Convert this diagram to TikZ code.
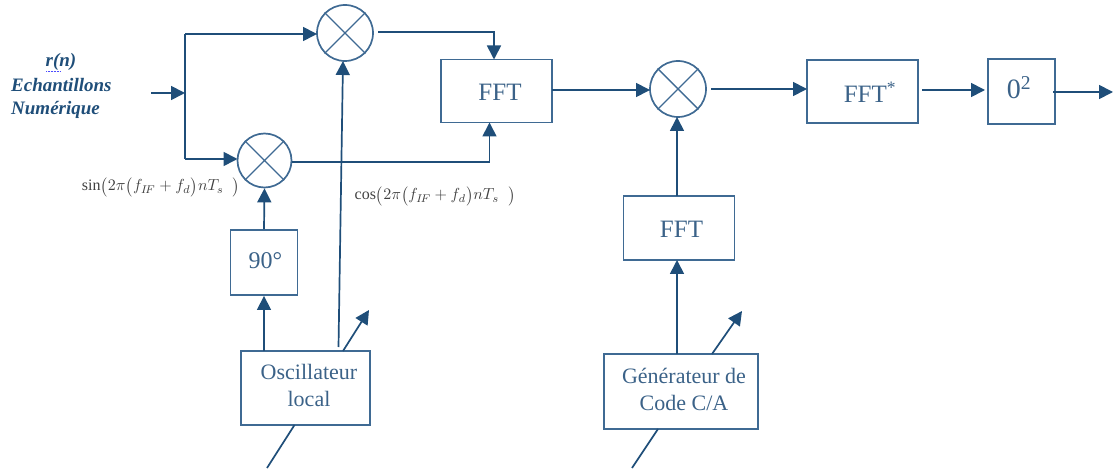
\documentclass[tikz,border=0pt]{standalone}
\usepackage{fontspec}
\setmainfont{Liberation Serif}
\usetikzlibrary{arrows.meta,positioning}
\definecolor{wire}{HTML}{1F4E79}
\definecolor{edge}{HTML}{3F6A93}
\definecolor{boxtxt}{HTML}{3B6288}
\definecolor{mathtxt}{HTML}{404040}
\tikzset{
  wireline/.style={draw=wire,line width=1.7pt},
  feed/.style={wireline,-{Triangle[length=14pt,width=14pt]}},
  plain/.style={draw=edge,line width=1.4pt},
  blockbox/.style={draw=edge,line width=1.9pt,inner sep=0pt,align=center,text=boxtxt},
  boxlabel/.style={text=boxtxt,inner sep=0pt,align=center,font=\fontsize{22}{27}\selectfont},
  bigfft/.style={font=\fontsize{25}{27}\selectfont},
  mixer/.style={circle,draw=edge,line width=1.7pt,minimum size=56pt,inner sep=0pt},
  inlabel/.style={text=wire,font=\fontsize{19}{22}\selectfont\bfseries\itshape,inner sep=0pt},
  mathlabel/.style={text=mathtxt,scale=1.6,inner sep=0pt},
}
\begin{document}
\begin{tikzpicture}[x=1pt,y=-1pt]
\useasboundingbox (0,0) rectangle (1113,470);
% blocks
\node[blockbox,minimum width=111pt,minimum height=63pt] (fft1) at (496.5,91) {};
\node[boxlabel,bigfft] (fft1t) at (500,92) {FFT};
\node[blockbox,minimum width=67pt,minimum height=65pt] (deg) at (264,262.5) {};
\node[boxlabel,font=\fontsize{24}{27}\selectfont] (degt) at (265.5,261) {90°};
\node[blockbox,minimum width=129pt,minimum height=74pt] (osc) at (305.5,388) {};
\node[boxlabel] (osct) at (309,385.5) {Oscillateur\\local};
\node[blockbox,minimum width=154pt,minimum height=75pt] (gen) at (681,391.5) {};
\node[boxlabel] (gent) at (684,389.5) {Générateur de\\Code C/A};
\node[blockbox,minimum width=111pt,minimum height=64pt] (fft2) at (679,228) {};
\node[boxlabel,bigfft] (fft2t) at (681.5,229) {FFT};
\node[blockbox,minimum width=111pt,minimum height=63pt] (ffts) at (862.5,91.5) {};
\node[boxlabel,bigfft] (fftst) at (870,92) {FFT\textsuperscript{*}};
\node[blockbox,minimum width=67pt,minimum height=65pt] (sq) at (1021.5,91.5) {};
\node[boxlabel,font=\fontsize{28}{30}\selectfont] (sqt) at (1019,88) {0\textsuperscript{2}};
% mixers
\node[mixer] (m1) at (345,33) {};
\node[mixer,minimum size=54pt] (m2) at (264.5,160.5) {};
\node[mixer] (m3) at (678,89) {};
\foreach \m in {m1,m2,m3}{\draw[plain] (\m.45)--(\m.225) (\m.135)--(\m.315);}
% labels
\node[inlabel] (r) at (61,62) {r(n)};
\draw[draw=blue!70!white,line width=.5pt,densely dotted] (46,71)--(60,71);
\node[inlabel,anchor=west] (e) at (11,85) {Echantillons};
\node[inlabel,anchor=west] (num) at (11,110) {Numérique};
\node[mathlabel] (sinl) at (161,187) {$\sin\bigl(2\pi\bigl(f_{I\!F}+f_d\bigr)nT_s\;\;\bigr)$};
\node[mathlabel] (cosl) at (435,196) {$\cos\bigl(2\pi\bigl(f_{I\!F}+f_d\bigr)nT_s\;\;\bigr)$};
% free ends and bends
\coordinate (inS) at (151,93);
\coordinate (j) at (185,93);
\coordinate (jT) at (185,34);
\coordinate (jB) at (185,159);
\coordinate (m1L) at (317,34);
\coordinate (m2L) at (237.5,159);
\coordinate (m1o) at (378,32);
\coordinate (m1c) at (494,32);
\coordinate (f1t) at (494,59.5);
\coordinate (m2o) at (292,162);
\coordinate (m2c) at (489.5,162);
\coordinate (f1b) at (489.5,122.5);
\coordinate (oscA) at (264,351);
\coordinate (oscB) at (338.5,347);
\coordinate (m1b) at (343,61);
\coordinate (oscC) at (343,351);
\coordinate (oscD) at (369,310);
\coordinate (oscE) at (294.5,425);
\coordinate (oscF) at (267,468);
\coordinate (genA) at (677,354);
\coordinate (genB) at (677,260);
\coordinate (genC) at (712,354);
\coordinate (genD) at (742,311);
\coordinate (genE) at (658,429);
\coordinate (genF) at (632,468);
\coordinate (f2t) at (677,196);
\coordinate (m3b) at (677,117);
\coordinate (f1r) at (552,90);
\coordinate (m3l) at (650,90);
\coordinate (m3o) at (711,89);
\coordinate (fsl) at (807,89);
\coordinate (fsr) at (922,90);
\coordinate (sql) at (985,90);
\coordinate (sqr) at (1053,92);
\coordinate (outE) at (1113,92);
% connectors
\draw[feed] (inS) -- (j);
\draw[wireline] (jT) -- (jB);
\draw[feed] (jT) -- (m1L);
\draw[feed] (jB) -- (m2L);
\draw[feed] (m1o) -- (m1c) -- (f1t);
\draw[feed] (m2o) -- (m2c) -- (f1b);
\draw[feed] (oscA) -- (deg.south);
\draw[feed] (deg.north) -- (m2.south);
\draw[feed] (oscB) -- (m1b);
\draw[feed] (oscC) -- (oscD);
\draw[wireline] (oscE) -- (oscF);
\draw[feed] (genA) -- (genB);
\draw[feed] (genC) -- (genD);
\draw[wireline] (genE) -- (genF);
\draw[feed] (f2t) -- (m3b);
\draw[feed] (f1r) -- (m3l);
\draw[feed] (m3o) -- (fsl);
\draw[feed] (fsr) -- (sql);
\draw[feed] (sqr) -- (outE);
\end{tikzpicture}
\end{document}
